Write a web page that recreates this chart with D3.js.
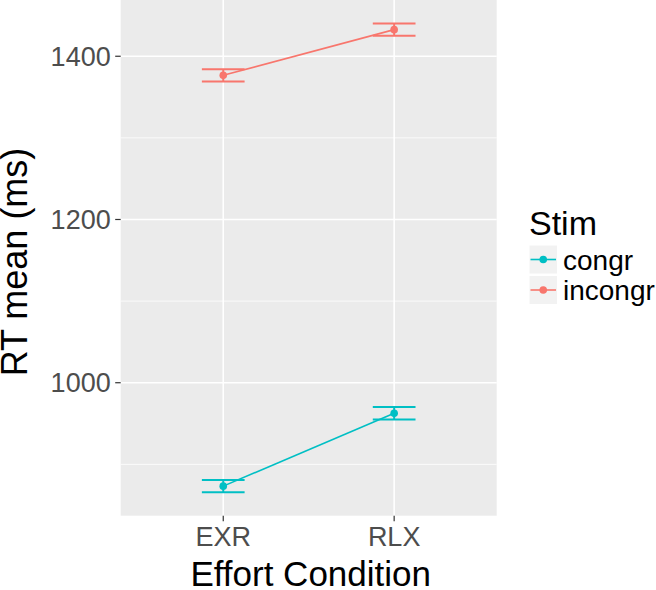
<!DOCTYPE html>
<html>
<head>
<meta charset="utf-8">
<script src="https://cdn.jsdelivr.net/npm/d3@7"></script>
<style>
  body { margin: 0; background: #fff; }
  text { font-family: "Liberation Sans", Arial, sans-serif; }
</style>
</head>
<body>
<div id="chart"></div>
<script>
const conditions = ["EXR", "RLX"];
const stims = ["congr", "incongr"];
const congrMean = [873.3, 962.5];
const congrSe = [7.5, 7.7];
const incongrMean = [1376.6, 1432.6];
const incongrSe = [7.6, 7.6];
const majorTicks = [1000, 1200, 1400];
const minorTicks = [900, 1100, 1300];

const width = 656;
const height = 590;
const panel = { left: 120.7, right: 496.7, top: 0, bottom: 515.7 };
const colors = { congr: "#00BFC4", incongr: "#F8766D" };

const series = [
  { stim: "congr", mean: congrMean, se: congrSe },
  { stim: "incongr", mean: incongrMean, se: incongrSe }
];
const rows = [];
series.forEach(s => {
  conditions.forEach((c, i) => {
    rows.push({ stim: s.stim, cond: c, mean: s.mean[i], lo: s.mean[i] - s.se[i], hi: s.mean[i] + s.se[i] });
  });
});

const svg = d3.select("#chart")
  .append("svg")
  .attr("width", width)
  .attr("height", height);

const x = d3.scalePoint()
  .domain(conditions)
  .range([panel.left, panel.right])
  .padding(0.6);

// ggplot style 5% expansion
const lo = d3.min(rows, d => d.lo), hi = d3.max(rows, d => d.hi);
const pad = (hi - lo) * 0.05;
const y = d3.scaleLinear()
  .domain([lo - pad, hi + pad])
  .range([panel.bottom, panel.top]);

// panel background
svg.append("rect")
  .attr("x", panel.left)
  .attr("y", panel.top)
  .attr("width", panel.right - panel.left)
  .attr("height", panel.bottom - panel.top)
  .attr("fill", "#EBEBEB");

svg.selectAll(".minor")
  .data(minorTicks)
  .enter()
  .append("line")
  .attr("x1", panel.left).attr("x2", panel.right)
  .attr("y1", d => y(d)).attr("y2", d => y(d))
  .attr("stroke", "#fff")
  .attr("stroke-width", 0.8);

svg.selectAll(".major")
  .data(majorTicks)
  .enter()
  .append("line")
  .attr("x1", panel.left).attr("x2", panel.right)
  .attr("y1", d => y(d)).attr("y2", d => y(d))
  .attr("stroke", "#fff")
  .attr("stroke-width", 1.6);

svg.selectAll(".vmajor")
  .data(conditions)
  .enter()
  .append("line")
  .attr("x1", d => x(d)).attr("x2", d => x(d))
  .attr("y1", panel.top).attr("y2", panel.bottom)
  .attr("stroke", "#fff")
  .attr("stroke-width", 1.6);

// error bars, lines, points
series.forEach(s => {
  const data = rows.filter(d => d.stim === s.stim);
  const col = colors[s.stim];
  const half = x.step() * 0.125;

  data.forEach(d => {
    const g = svg.append("g").attr("stroke", col).attr("stroke-width", 2);
    g.append("line").attr("x1", x(d.cond) - half).attr("x2", x(d.cond) + half)
      .attr("y1", y(d.hi)).attr("y2", y(d.hi));
    g.append("line").attr("x1", x(d.cond) - half).attr("x2", x(d.cond) + half)
      .attr("y1", y(d.lo)).attr("y2", y(d.lo));
    g.append("line").attr("x1", x(d.cond)).attr("x2", x(d.cond))
      .attr("y1", y(d.hi)).attr("y2", y(d.lo));
  });

  svg.append("path")
    .datum(data)
    .attr("fill", "none")
    .attr("stroke", col)
    .attr("stroke-width", 1.6)
    .attr("d", d3.line().x(d => x(d.cond)).y(d => y(d.mean)));

  svg.selectAll(".pt-" + s.stim)
    .data(data)
    .enter()
    .append("circle")
    .attr("cx", d => x(d.cond))
    .attr("cy", d => y(d.mean))
    .attr("r", 3.8)
    .attr("fill", col);
});

// y axis
const yAxis = svg.append("g");
majorTicks.forEach(t => {
  yAxis.append("line")
    .attr("x1", panel.left - 5.5).attr("x2", panel.left)
    .attr("y1", y(t)).attr("y2", y(t))
    .attr("stroke", "#333").attr("stroke-width", 1.2);
  yAxis.append("text")
    .attr("x", panel.left - 10)
    .attr("y", y(t))
    .attr("dy", "0.36em")
    .attr("text-anchor", "end")
    .style("font-size", "27px")
    .style("fill", "#4D4D4D")
    .text(t);
});

// x axis
conditions.forEach(c => {
  svg.append("line")
    .attr("x1", x(c)).attr("x2", x(c))
    .attr("y1", panel.bottom).attr("y2", panel.bottom + 5.5)
    .attr("stroke", "#333").attr("stroke-width", 1.2);
  svg.append("text")
    .attr("x", x(c))
    .attr("y", 545.5)
    .attr("text-anchor", "middle")
    .style("font-size", "27px")
    .style("fill", "#4D4D4D")
    .text(c);
});

svg.append("text")
  .attr("x", (panel.left + panel.right) / 2 + 2)
  .attr("y", 586)
  .attr("text-anchor", "middle")
  .style("font-size", "35px")
  .style("fill", "#000")
  .text("Effort Condition");

svg.append("text")
  .attr("transform", "translate(26.5,262) rotate(-90)")
  .attr("text-anchor", "middle")
  .style("font-size", "36px")
  .style("fill", "#000")
  .text("RT mean (ms)");

// legend
const legend = svg.append("g").attr("transform", "translate(529,0)");
legend.append("text")
  .attr("x", 0)
  .attr("y", 235)
  .style("font-size", "34px")
  .style("fill", "#000")
  .text("Stim");

stims.forEach((s, i) => {
  const top = 245 + i * 30.5;
  legend.append("rect")
    .attr("x", 0).attr("y", top)
    .attr("width", 28.5).attr("height", 29)
    .attr("fill", "#F2F2F2")
    .attr("stroke", "#fff");
  legend.append("line")
    .attr("x1", 1.5).attr("x2", 27)
    .attr("y1", top + 14.5).attr("y2", top + 14.5)
    .attr("stroke", colors[s]).attr("stroke-width", 1.6);
  legend.append("circle")
    .attr("cx", 14.25).attr("cy", top + 14.5)
    .attr("r", 3.8)
    .attr("fill", colors[s]);
  legend.append("text")
    .attr("x", 34)
    .attr("y", top + 14.5)
    .attr("dy", "0.36em")
    .style("font-size", "28px")
    .style("fill", "#000")
    .text(s);
});
</script>
</body>
</html>
